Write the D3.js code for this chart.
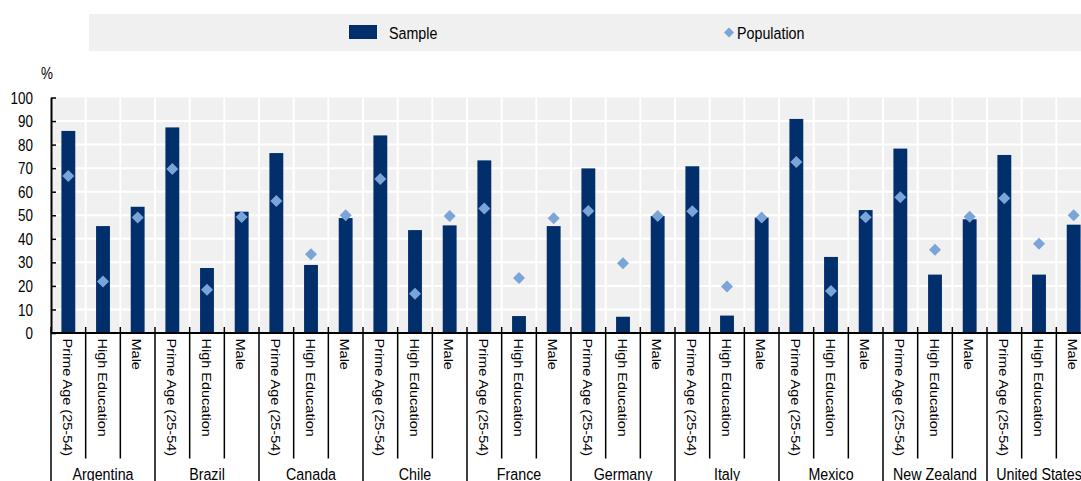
<!DOCTYPE html>
<html>
<head>
<meta charset="utf-8">
<script src="https://cdn.jsdelivr.net/npm/d3@7"></script>
<style>
  html, body { margin: 0; padding: 0; background: #ffffff; }
  svg { display: block; }
  text { font-family: "Liberation Sans", Arial, sans-serif; fill: #000; }
</style>
</head>
<body>
<svg id="chart" width="1081" height="481"></svg>
<script>
// ---------------- data ----------------
const countries = ["Argentina", "Brazil", "Canada", "Chile", "France", "Germany", "Italy", "Mexico", "New Zealand", "United States"];
const groups = ["Prime Age (25-54)", "High Education", "Male"];
// values in order: for each country -> Prime Age, High Education, Male
const sampleValues = [
  85.8, 45.4, 53.6,   // Argentina
  87.3, 27.6, 51.5,   // Brazil
  76.4, 28.9, 48.8,   // Canada
  83.9, 43.7, 45.7,   // Chile
  73.3, 7.2, 45.4,    // France
  69.9, 6.9, 49.7,    // Germany
  70.8, 7.4, 49.0,    // Italy
  90.9, 32.3, 52.2,   // Mexico
  78.3, 24.8, 48.3,   // New Zealand
  75.6, 24.8, 46.0    // United States
];
const populationValues = [
  66.7, 21.9, 49.0,
  69.6, 18.4, 49.3,
  56.0, 33.4, 50.0,
  65.4, 16.7, 49.7,
  52.9, 23.4, 48.7,
  51.8, 29.6, 49.7,
  51.7, 19.7, 49.0,
  72.6, 17.8, 49.1,
  57.6, 35.4, 49.4,
  57.2, 37.9, 50.0
];
const yTicks = [0, 10, 20, 30, 40, 50, 60, 70, 80, 90, 100];
const seriesNames = ["Sample", "Population"];

// ---------------- build rows ----------------
const rows = [];
countries.forEach((c, ci) => {
  groups.forEach((g, gi) => {
    const i = ci * groups.length + gi;
    rows.push({ key: c + "|" + g, country: c, group: g, sample: sampleValues[i], population: populationValues[i] });
  });
});

// ---------------- layout ----------------
const SQ = 0.84;   // horizontal squeeze of horizontal glyphs
const SQR = 0.92;  // squeeze for rotated labels
const BAR = "#002f6c", DIAM = "#7ba4d8", BG = "#f0f0f0";
const plotLeft = 51, plotTop = 97.5, plotBottom = 333, bandW = 34.667;
const svg = d3.select("#chart");

const x = d3.scaleBand().domain(rows.map(d => d.key)).range([plotLeft, plotLeft + bandW * rows.length]).padding(0);
const y = d3.scaleLinear().domain([0, 100]).range([plotBottom, plotTop]);

// legend
svg.append("rect").attr("x", 89).attr("y", 14).attr("width", 1100).attr("height", 37).attr("fill", BG);
svg.append("rect").attr("x", 349).attr("y", 25).attr("width", 28).attr("height", 14).attr("fill", BAR);
svg.append("text").attr("transform", `translate(389,39) scale(${SQ},1)`).style("font-size", "17px").text(seriesNames[0]);
svg.append("path").attr("transform", "translate(729,32.5)").attr("d", "M0,-5L5,0L0,5L-5,0Z").attr("fill", DIAM);
svg.append("text").attr("transform", `translate(737,39) scale(${SQ},1)`).style("font-size", "17px").text(seriesNames[1]);

// plot background
const xEnd = x.range()[1];
svg.append("rect").attr("x", plotLeft).attr("y", plotTop).attr("width", xEnd - plotLeft).attr("height", plotBottom - plotTop).attr("fill", BG);

// gridlines
svg.append("g").selectAll("line").data(yTicks.filter(t => t > 0 && t < 100)).join("line")
  .attr("x1", plotLeft).attr("x2", xEnd).attr("y1", d => y(d)).attr("y2", d => y(d))
  .attr("stroke", "#fff").attr("stroke-width", 2);
const bounds = rows.map(d => x(d.key)).concat([xEnd]);
svg.append("g").selectAll("line").data(bounds.slice(1)).join("line")
  .attr("x1", d => d).attr("x2", d => d).attr("y1", plotTop).attr("y2", plotBottom)
  .attr("stroke", "#fff").attr("stroke-width", 2);

// bars
const bw = x.bandwidth() * 0.4;
svg.append("g").selectAll("rect").data(rows).join("rect")
  .attr("x", d => x(d.key) + (x.bandwidth() - bw) / 2)
  .attr("width", bw)
  .attr("y", d => y(d.sample))
  .attr("height", d => y(0) - y(d.sample))
  .attr("fill", BAR);

// diamonds
svg.append("g").selectAll("path").data(rows).join("path")
  .attr("transform", d => `translate(${x(d.key) + x.bandwidth() / 2},${y(d.population)})`)
  .attr("d", "M0,-6L6,0L0,6L-6,0Z")
  .attr("fill", DIAM);

// y axis
const yAxis = svg.append("g").attr("transform", `translate(${plotLeft},0)`)
  .call(d3.axisLeft(y).tickValues(yTicks).tickSize(-5).tickSizeOuter(0));
yAxis.attr("font-family", null).attr("font-size", null);
yAxis.select(".domain").attr("stroke", "#000").attr("stroke-width", 2);
yAxis.selectAll(".tick line").attr("stroke", "#000").attr("stroke-width", 1.5);
yAxis.selectAll(".tick text")
  .attr("x", null).attr("dy", "0.35em")
  .attr("transform", `translate(${33 - plotLeft},0) scale(${SQ},1)`)
  .attr("text-anchor", "end")
  .attr("fill", "#000")
  .style("font-size", "16px");
svg.append("text").attr("transform", `translate(47,79) scale(${SQ},1)`).attr("text-anchor", "middle")
  .style("font-size", "16px").text("%");

// x axis
svg.append("line").attr("x1", plotLeft).attr("x2", xEnd).attr("y1", plotBottom).attr("y2", plotBottom)
  .attr("stroke", "#000").attr("stroke-width", 2);
svg.append("g").selectAll("line").data(bounds).join("line")
  .attr("x1", d => d).attr("x2", d => d)
  .attr("y1", plotBottom - 6)
  .attr("y2", (d, i) => (i % groups.length === 0) ? 481 : 458.5)
  .attr("stroke", "#000").attr("stroke-width", 1.5);

// category labels (rotated)
svg.append("g").selectAll("text").data(rows).join("text")
  .attr("transform", d => `translate(${x(d.key) + x.bandwidth() / 2 - 0.5},338.5) scale(${SQR},1) rotate(90)`)
  .attr("dy", "0.35em")
  .style("font-size", "14.5px")
  .text(d => d.group);

// country labels
svg.append("g").selectAll("text").data(countries).join("text")
  .attr("transform", c => {
    const first = x(c + "|" + groups[0]);
    const cx = first + x.bandwidth() * groups.length / 2;
    return `translate(${cx},479.5) scale(${SQ},1)`;
  })
  .attr("text-anchor", "middle")
  .style("font-size", "17px")
  .text(c => c);
</script>
</body>
</html>
